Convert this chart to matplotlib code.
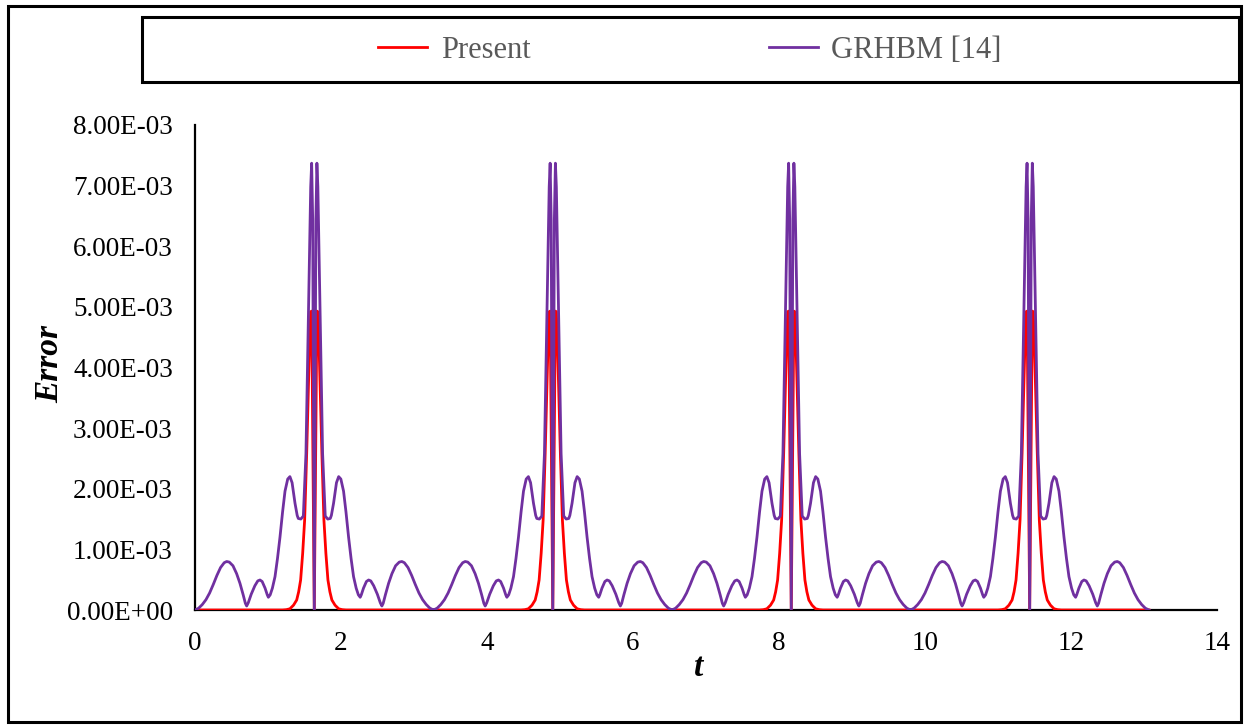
import numpy as np
import matplotlib
matplotlib.use("Agg")
import matplotlib.pyplot as plt
from matplotlib.patches import Rectangle

plt.rcParams['font.family'] = ['Liberation Serif', 'DejaVu Serif']

# Readings for the left half of one error burst (offset from the burst start)
grhbm_s = [0.0, 0.05, 0.10, 0.15, 0.20, 0.25, 0.30, 0.35, 0.40, 0.434,
           0.47, 0.52, 0.57, 0.616, 0.66, 0.69, 0.708, 0.73, 0.77, 0.82,
           0.86, 0.89, 0.92, 0.96, 0.99, 1.005, 1.03, 1.06, 1.096, 1.13,
           1.164, 1.20, 1.233, 1.27, 1.30, 1.33, 1.37, 1.40, 1.415, 1.45,
           1.484, 1.52, 1.553, 1.585, 1.598, 1.612, 1.634]
grhbm_half = [0.0, 0.03, 0.09, 0.17, 0.28, 0.42, 0.57, 0.70, 0.78, 0.80,
              0.79, 0.73, 0.60, 0.44, 0.25, 0.11, 0.066, 0.12, 0.26, 0.40,
              0.48, 0.495, 0.47, 0.36, 0.25, 0.21, 0.25, 0.36, 0.55, 0.85,
              1.20, 1.62, 1.96, 2.16, 2.20, 2.10, 1.76, 1.56, 1.51, 1.50,
              1.55, 2.58, 4.78, 6.98, 7.37, 6.45, 0.0]

present_s = [0.0, 1.20, 1.25, 1.30, 1.35, 1.393, 1.42, 1.447, 1.475, 1.502,
             1.53, 1.566, 1.585, 1.598, 1.634]
present_half = [0.0, 0.0, 0.005, 0.02, 0.08, 0.165, 0.30, 0.495, 0.935, 1.485,
                2.59, 4.24, 4.92, 4.93, 0.0]

# burst centres
centres = [1.634, 4.901, 8.168, 11.434]

series_names = ["Present", "GRHBM [14]"]
series_colors = ["#FF0000", "#7030A0"]

y_ticks = [0, 1e-3, 2e-3, 3e-3, 4e-3, 5e-3, 6e-3, 7e-3, 8e-3]
y_tick_labels = ["0.00E+00", "1.00E-03", "2.00E-03", "3.00E-03", "4.00E-03",
                 "5.00E-03", "6.00E-03", "7.00E-03", "8.00E-03"]
x_ticks = [0, 2, 4, 6, 8, 10, 12, 14]


def build(s_vals, values):
    # mirror the half-burst around each centre and join the bursts
    s = np.array(s_vals)
    v = np.array(values) * 1e-3
    t_all, e_all = [], []
    for c in centres:
        start = c - s[-1]
        t_all += list(start + s) + list(c + (s[-1] - s[::-1])[1:])
        e_all += list(v) + list(v[::-1][1:])
    return np.array(t_all), np.array(e_all)


fig = plt.figure(figsize=(12.48, 7.28), dpi=100)
ax = fig.add_axes([195 / 1248, 1 - 610 / 728, 1022 / 1248, 485 / 728])

t_p, e_p = build(present_s, present_half)
t_g, e_g = build(grhbm_s, grhbm_half)
ax.plot(t_p, e_p, color=series_colors[0], lw=2.0, label=series_names[0],
        solid_joinstyle='round', zorder=3)
ax.plot(t_g, e_g, color=series_colors[1], lw=2.0, label=series_names[1],
        solid_joinstyle='round', zorder=4)

ax.set_xlim(0, 14)
ax.set_ylim(0, 8e-3)
ax.set_xticks(x_ticks)
ax.set_xticklabels([str(x) for x in x_ticks])
ax.set_yticks(y_ticks)
ax.set_yticklabels(y_tick_labels)
ax.tick_params(length=0, labelsize=19.5)
ax.tick_params(axis='y', pad=16)
ax.tick_params(axis='x', pad=15)
for side in ['top', 'right']:
    ax.spines[side].set_visible(False)
for side in ['left', 'bottom']:
    ax.spines[side].set_color('black')
    ax.spines[side].set_linewidth(1.6)
ax.spines['bottom'].set_zorder(2)

fig.text(50 / 1248, 1 - 364 / 728, "Error", rotation=90, fontsize=24,
         fontweight='bold', fontstyle='italic', ha='center', va='center')
fig.text(699 / 1248, 1 - 667 / 728, "t", fontsize=24, fontweight='bold',
         fontstyle='italic', ha='center', va='center')

# outer frame and legend box
fig.patches.append(Rectangle((8 / 1248, 6 / 728), 1233 / 1248, 716 / 728,
                             transform=fig.transFigure, fill=False,
                             edgecolor='black', lw=2.2))
fig.patches.append(Rectangle((142 / 1248, 1 - 82 / 728), 1097 / 1248, 65 / 728,
                             transform=fig.transFigure, fill=False,
                             edgecolor='black', lw=2.2))
leg = fig.legend(loc='center', bbox_to_anchor=(690 / 1248, 1 - 50 / 728),
                 ncol=2, frameon=False, fontsize=22, handlelength=1.6,
                 handletextpad=0.45, columnspacing=7.8)
for txt in leg.get_texts():
    txt.set_color('#595959')

fig.savefig("out.png", dpi=100)
